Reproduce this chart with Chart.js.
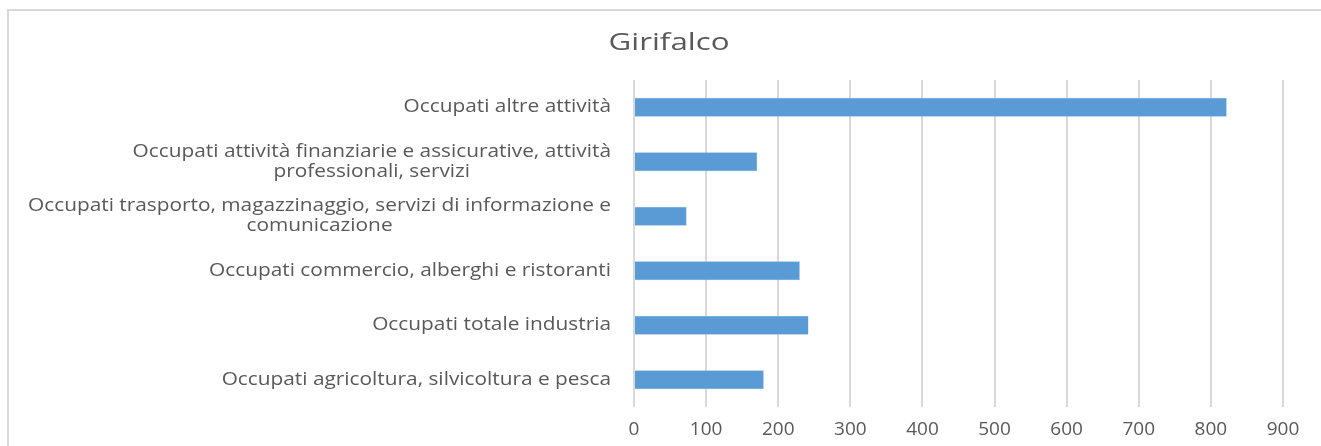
<!DOCTYPE html>
<html><head><meta charset="utf-8">
<script src="https://cdn.jsdelivr.net/npm/chart.js@4"></script>
<style>html,body{margin:0;padding:0;background:#fff}#wrap{width:1321px;height:446px;position:relative}</style>
</head>
<body>
<div id="wrap"><canvas id="c" width="1321" height="446"></canvas></div>
<script>
const chartTitle = "Girifalco";
const categories = [
  ["Occupati altre attività"],
  ["Occupati attività finanziarie e assicurative, attività", "professionali, servizi"],
  ["Occupati trasporto, magazzinaggio, servizi di informazione e", "comunicazione"],
  ["Occupati commercio, alberghi e ristoranti"],
  ["Occupati totale industria"],
  ["Occupati agricoltura, silvicoltura e pesca"]
];
const values = [822, 171, 73, 230, 242, 180];
const xMin = 0, xMax = 900, xStep = 100;

const TEXT = "#595959";
const FONT = "'Open Sans', 'Noto Sans', sans-serif";

const decor = {
  id: 'decor',
  beforeDraw(chart) {
    const c = chart.ctx;
    c.save();
    c.strokeStyle = '#d9d9d9';
    c.lineWidth = 2;
    c.beginPath();
    c.moveTo(8, 446); c.lineTo(8, 10); c.lineTo(1321, 10);
    c.stroke();
    c.restore();
  },
  afterDraw(chart) {
    const c = chart.ctx;
    const ys = chart.scales.y;
    c.save();
    c.fillStyle = TEXT;
    c.textBaseline = 'middle';
    // title
    c.save();
    c.font = "23px " + FONT;
    c.textAlign = 'center';
    c.translate(669, 43);
    c.scale(1.36, 1);
    c.fillText(chartTitle, 0, 0);
    c.restore();
    // category labels
    const sx = 1.19, right = 611, lh = 20;
    c.font = "17.5px " + FONT;
    c.textAlign = 'center';
    chart.data.labels.forEach((lines, i) => {
      const yc = ys.getPixelForValue(i);
      const widths = lines.map(l => c.measureText(l).width * sx);
      const maxW = Math.max(...widths);
      const cx = right - maxW / 2;
      lines.forEach((l, k) => {
        const y = yc + (k - (lines.length - 1) / 2) * lh;
        c.save();
        c.translate(cx, y);
        c.scale(sx, 1);
        c.fillText(l, 0, 0);
        c.restore();
      });
    });
    c.restore();
  }
};

new Chart(document.getElementById('c'), {
  type: 'bar',
  data: {
    labels: categories,
    datasets: [{
      data: values,
      backgroundColor: '#5b9bd5',
      borderColor: '#8dbbe3',
      borderWidth: 0.5,
      barPercentage: 0.35,
      categoryPercentage: 1
    }]
  },
  options: {
    indexAxis: 'y',
    responsive: false,
    animation: false,
    layout: { padding: { top: 80, right: 38, bottom: 0, left: 0 } },
    plugins: { legend: { display: false }, title: { display: false }, tooltip: { enabled: false } },
    scales: {
      x: {
        min: xMin, max: xMax,
        ticks: { stepSize: xStep, color: TEXT, font: { family: FONT, size: 19 }, padding: 11 },
        grid: { color: '#d9d9d9', lineWidth: 2, drawTicks: false },
        border: { display: false },
        afterFit(s) { s.height = 39; }
      },
      y: {
        ticks: { display: false },
        grid: { display: false },
        border: { display: false },
        afterFit(s) { s.width = 634; }
      }
    }
  },
  plugins: [decor]
});
</script>
</body></html>
